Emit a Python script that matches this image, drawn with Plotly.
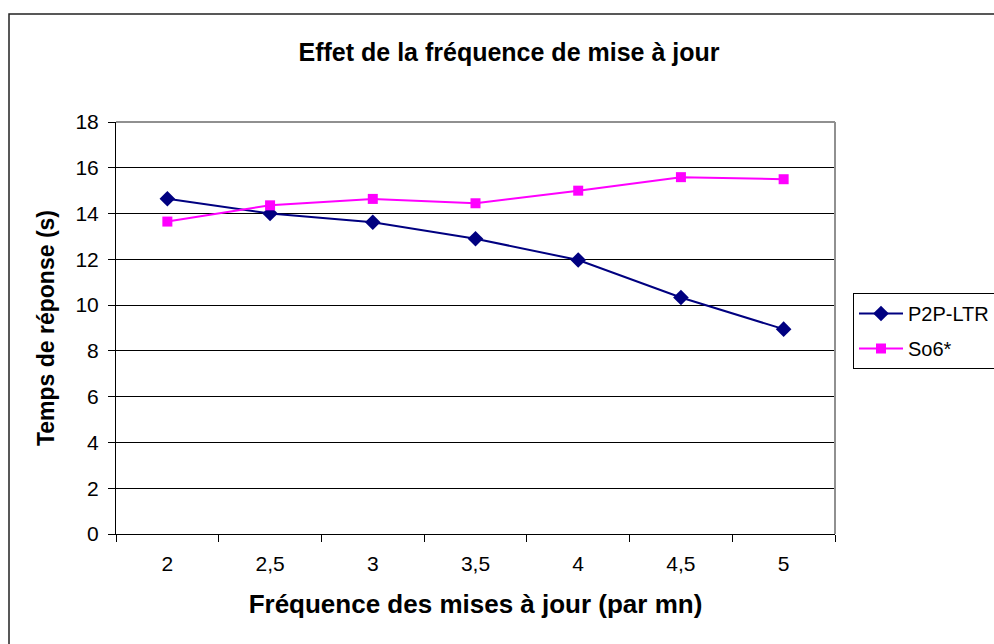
import plotly.graph_objects as go

# Update frequency (per minute) and measured response times (s)
frequences = ["2", "2,5", "3", "3,5", "4", "4,5", "5"]
p2p_ltr = [14.65, 14.0, 13.62, 12.9, 11.97, 10.33, 8.95]
so6 = [13.65, 14.36, 14.64, 14.45, 15.0, 15.59, 15.5]

W, H = 994, 644
L, R, T, B = 116, 159, 122, 110
pw, ph = W - L - R, H - T - B

def px_x(x):
    return (x - L) / pw

def px_y(y):
    return (H - B - y) / ph

fig = go.Figure()
fig.add_trace(go.Scatter(
    x=frequences, y=p2p_ltr, name="P2P-LTR", mode="lines+markers",
    line=dict(color="#000080", width=2),
    marker=dict(symbol="diamond", size=12, color="#000080"),
    legendgroup="a",
))
fig.add_trace(go.Scatter(
    x=frequences, y=so6, name="So6*", mode="lines+markers",
    line=dict(color="#FF00FF", width=2),
    marker=dict(symbol="square", size=10, color="#FF00FF"),
    legendgroup="b",
))

font_family = "Liberation Sans, Arial, sans-serif"

fig.update_layout(
    width=W, height=H,
    margin=dict(l=L, r=R, t=T, b=B, autoexpand=False),
    paper_bgcolor="white", plot_bgcolor="white",
    font=dict(family=font_family, color="black", size=21),
    title=dict(
        text="<b>Effet de la fréquence de mise à jour</b>",
        x=509 / W, xanchor="center", xref="container",
        y=1 - 52 / H, yanchor="middle", yref="container",
        font=dict(size=25, family=font_family, color="black"),
    ),
    xaxis=dict(
        type="category", range=[-0.5, 6.5], tickson="boundaries",
        ticks="outside", ticklen=7, tickcolor="black", tickwidth=1,
        showline=True, linecolor="black", linewidth=1,
        showgrid=False, zeroline=False,
        tickfont=dict(size=21), ticklabelstandoff=11,
        title=dict(text="<b>Fréquence des mises à jour (par mn)</b>",
                   font=dict(size=26), standoff=20),
    ),
    yaxis=dict(
        range=[0, 18], dtick=2, tickmode="linear", tick0=0,
        ticks="outside", ticklen=7, tickcolor="black", tickwidth=1,
        showline=True, linecolor="black", linewidth=1,
        showgrid=True, gridcolor="black", gridwidth=1, zeroline=False,
        tickfont=dict(size=21), ticklabelstandoff=5,
        title=dict(text="<b>Temps de réponse (s)</b>",
                   font=dict(size=23), standoff=14),
    ),
    legend=dict(
        x=px_x(853), y=px_y(293), xanchor="left", yanchor="top",
        bordercolor="black", borderwidth=1, bgcolor="white",
        font=dict(size=20), tracegroupgap=6, traceorder="grouped",
        itemwidth=44,
    ),
    shapes=[
        # chart frame
        dict(type="rect", xref="paper", yref="paper",
             x0=px_x(9), y0=px_y(660), x1=px_x(1010), y1=px_y(14),
             line=dict(color="#222222", width=1.5), layer="below"),
        # plot area border (top and right)
        dict(type="line", xref="paper", yref="paper",
             x0=0, y0=1, x1=1, y1=1, line=dict(color="#909090", width=2)),
        dict(type="line", xref="paper", yref="paper",
             x0=1, y0=0, x1=1, y1=1, line=dict(color="#909090", width=2)),
    ],
)

fig.write_html("out.html")
